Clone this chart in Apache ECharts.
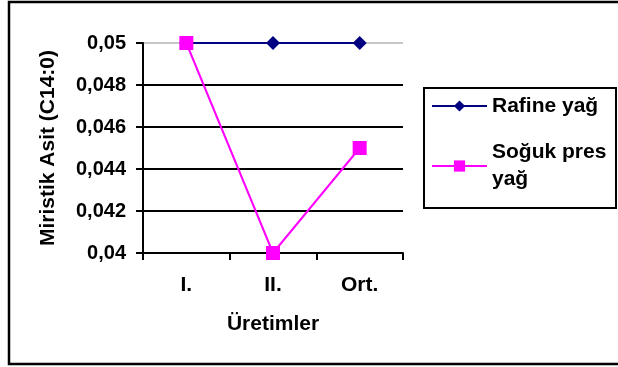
<!DOCTYPE html>
<html>
<head>
<meta charset="utf-8">
<script src="https://cdn.jsdelivr.net/npm/echarts@6/dist/echarts.min.js"></script>
<style>html,body{margin:0;padding:0;background:#fff}#c{width:618px;height:367px}</style>
</head>
<body>
<div id="c"></div>
<script>
var categories = ['I.', 'II.', 'Ort.'];
var rafine = [0.05, 0.05, 0.05];
var soguk = [0.05, 0.04, 0.045];
var seriesNames = ['Rafine yağ', 'Soğuk pres yağ'];
var yTitle = 'Miristik Asit (C14:0)';
var xTitle = 'Üretimler';

var chart = echarts.init(document.getElementById('c'));
var font = 'Arial, "Liberation Sans", sans-serif';
chart.setOption({
  animation: false,
  graphic: [{
    type: 'rect', shape: {x: 9, y: 2, width: 640, height: 362},
    style: {fill: 'none', stroke: '#000', lineWidth: 2.5}, z: -1
  }, {
    type: 'rect', shape: {x: 424, y: 88, width: 192, height: 120},
    style: {fill: 'none', stroke: '#000', lineWidth: 2}, z: -1
  }],
  grid: {left: 143, top: 43, right: 215, bottom: 114},
  legend: {
    orient: 'vertical', left: 431, top: 92.5,
    padding: 0, itemGap: 6,
    itemWidth: 55, itemHeight: 14,
    data: [
      {name: seriesNames[0]},
      {name: seriesNames[1], textStyle: {padding: [27, 0, 0, 0]}}
    ],
    formatter: function (n) { return n === 'Soğuk pres yağ' ? 'Soğuk pres\nyağ' : n; },
    textStyle: {fontFamily: font, fontWeight: 'bold', fontSize: 21, color: '#000', lineHeight: 27}
  },
  xAxis: {
    type: 'category', data: categories, boundaryGap: true,
    name: xTitle, nameLocation: 'middle', nameGap: 61,
    nameTextStyle: {fontFamily: font, fontWeight: 'bold', fontSize: 21, color: '#000'},
    axisLine: {lineStyle: {color: '#000', width: 2}},
    axisTick: {show: true, length: 7, interval: 0, lineStyle: {color: '#000', width: 2}},
    axisLabel: {fontFamily: font, fontWeight: 'bold', fontSize: 21, color: '#000', margin: 22}
  },
  yAxis: {
    type: 'value', min: 0.04, max: 0.05, interval: 0.002,
    name: yTitle, nameLocation: 'middle', nameGap: 84, nameRotate: 90,
    nameTextStyle: {fontFamily: font, fontWeight: 'bold', fontSize: 21, color: '#000'},
    axisLine: {show: true, lineStyle: {color: '#000', width: 2}},
    axisTick: {show: true, length: 7, lineStyle: {color: '#000', width: 2}},
    axisLabel: {fontFamily: font, fontWeight: 'bold', fontSize: 20, color: '#000', margin: 17,
      formatter: function (v) { return String(+v.toFixed(3)).replace('.', ','); }},
    splitLine: {show: true, lineStyle: {color: ['#000', '#000', '#000', '#000', '#000', '#c8c8c8'], width: 2}}
  },
  series: [{
    name: seriesNames[0], type: 'line', data: rafine,
    symbol: 'diamond', symbolSize: 14,
    lineStyle: {color: '#000080', width: 2},
    itemStyle: {color: '#000080'}
  }, {
    name: seriesNames[1], type: 'line', data: soguk,
    symbol: 'rect', symbolSize: 14,
    lineStyle: {color: '#FF00FF', width: 2},
    itemStyle: {color: '#FF00FF'}
  }]
});
</script>
</body>
</html>
